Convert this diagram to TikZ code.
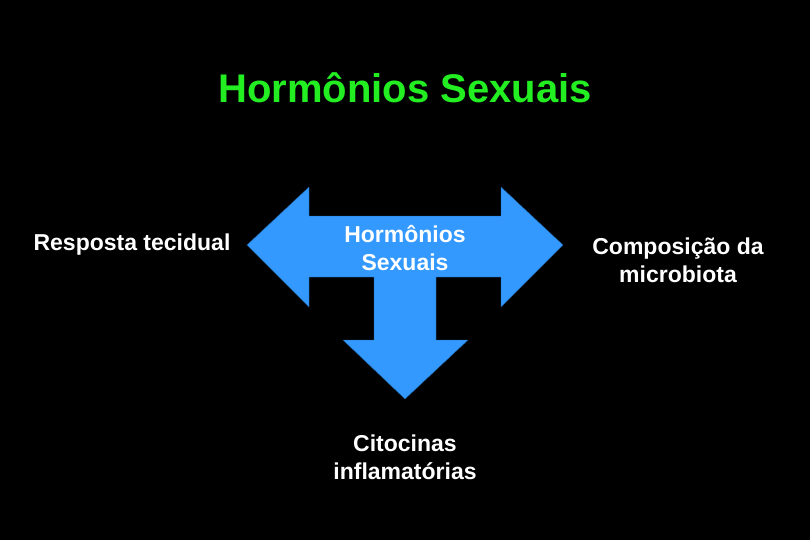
\documentclass[tikz,border=0pt]{standalone}
\usepackage{fontspec}
\setmainfont{Liberation Sans}
\definecolor{arrowblue}{HTML}{3399FF}
\definecolor{titlegreen}{HTML}{22EE22}
\begin{document}
\begin{tikzpicture}[x=1pt,y=-1pt,
  lbl/.style={text=white,font=\bfseries\fontsize{23}{28}\selectfont,align=center}]
\fill[black] (0,0) rectangle (810,540);
\useasboundingbox (0,0) rectangle (810,540);
\node[text=titlegreen,font=\bfseries\fontsize{40}{46}\selectfont] (title) at (405,88) {Hormônios Sexuais};
\fill[arrowblue,draw=arrowblue!60!black,line width=0.4pt]
  (247,245) -- (309,187) -- (309,216) -- (501,216) -- (501,187) -- (563,245)
  -- (501,307) -- (501,277) -- (436,277) -- (436,340) -- (468,340) -- (405,399)
  -- (343,340) -- (374,340) -- (374,277) -- (309,277) -- (309,307) -- cycle;
\node[lbl] (center) at (405,248) {Hormônios\\Sexuais};
\node[lbl] (left) at (132,245) {Resposta tecidual};
\node[lbl] (right) at (678,260) {Composição da\\microbiota};
\node[lbl] (bottom) at (405,457) {Citocinas\\inflamatórias};
\end{tikzpicture}
\end{document}
